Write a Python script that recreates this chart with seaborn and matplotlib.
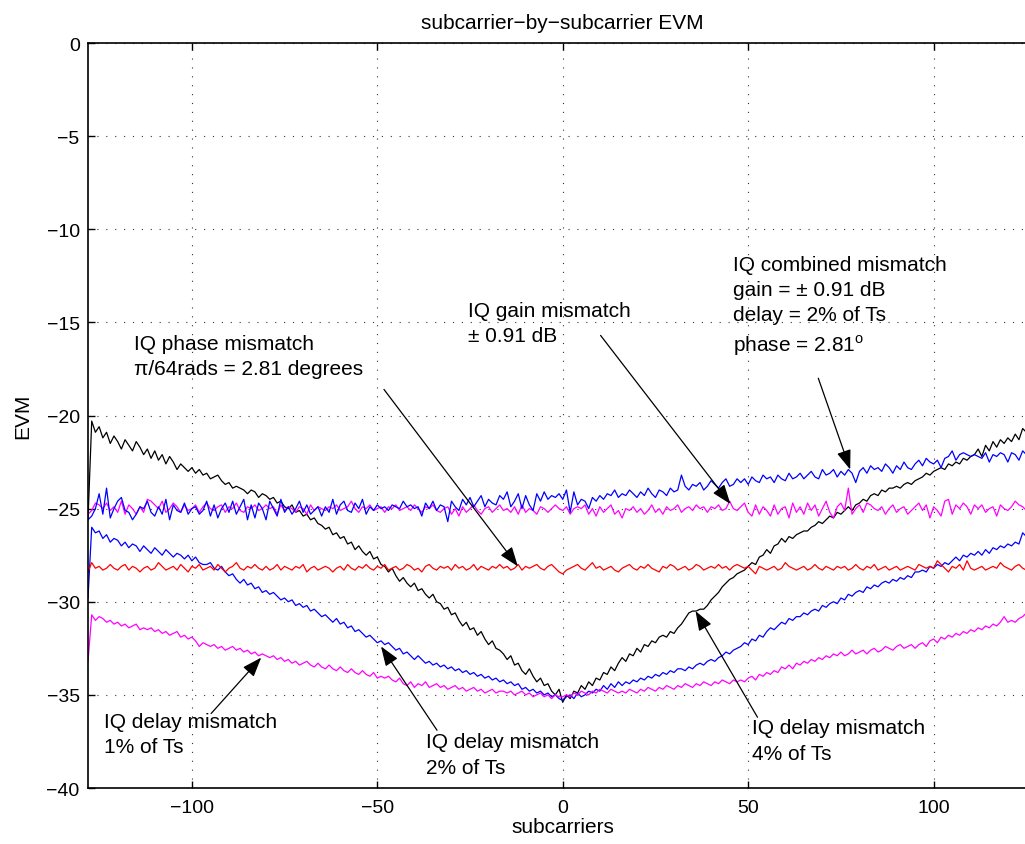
import matplotlib
matplotlib.use("Agg")
import matplotlib.pyplot as plt
import numpy as np
import pandas as pd
import seaborn as sns

# ---------------- data ----------------
subcarriers = list(range(-128, 128))

# IQ delay mismatch 4% of Ts (black)
delay_4pct = [
    -25.6, -20.3, -20.9, -20.6, -21.2, -20.9, -21.5, -21.1, -21.4, -21.8, -21.3, -21.6, -21.9, -21.4, -21.7, -22.1,
    -21.8, -22.3, -21.9, -22.4, -22.1, -22.6, -22.2, -22.5, -22.9, -22.6, -22.8, -23.0, -22.8, -23.1, -22.9, -23.2,
    -23.1, -23.4, -23.3, -23.2, -23.5, -23.7, -23.6, -23.9, -23.8, -23.9, -24.0, -24.2, -24.0, -24.1, -24.4, -24.2,
    -24.3, -24.5, -24.4, -24.7, -24.6, -24.9, -25.0, -24.8, -25.2, -25.1, -25.4, -25.3, -25.6, -25.5, -25.8, -25.9,
    -26.1, -26.0, -26.4, -26.3, -26.6, -26.5, -26.9, -26.8, -27.2, -27.0, -27.3, -27.5, -27.3, -27.7, -27.6, -28.0,
    -28.1, -28.4, -28.2, -28.6, -28.9, -28.7, -29.0, -29.2, -29.0, -29.4, -29.3, -29.6, -29.8, -29.6, -30.0, -30.1,
    -30.4, -30.3, -30.7, -30.6, -31.0, -31.3, -31.1, -31.5, -31.4, -31.8, -31.6, -32.0, -32.3, -32.1, -32.5, -32.6,
    -32.8, -33.1, -32.9, -33.4, -33.3, -33.7, -33.9, -33.6, -34.0, -34.3, -34.1, -34.5, -34.4, -34.8, -35.0, -34.7,
    -35.4, -35.0, -35.2, -34.8, -34.9, -34.5, -34.7, -34.3, -34.5, -34.1, -34.2, -33.8, -33.9, -33.5, -33.7, -33.3,
    -33.0, -33.2, -32.8, -32.9, -32.5, -32.7, -32.3, -32.4, -32.1, -32.2, -31.9, -31.8, -31.9, -31.6, -31.7, -31.4,
    -31.2, -30.9, -30.6, -30.5, -30.5, -30.4, -30.4, -30.2, -29.9, -29.7, -29.5, -29.2, -29.0, -28.8, -28.7, -28.5,
    -28.4, -28.3, -28.1, -27.9, -28.0, -27.6, -27.5, -27.2, -27.4, -27.0, -26.9, -26.6, -26.8, -26.5, -26.6, -26.4,
    -26.3, -26.2, -26.2, -26.0, -25.9, -25.7, -25.8, -25.6, -25.4, -25.5, -25.2, -25.3, -25.1, -24.9, -25.1, -24.8,
    -24.7, -24.5, -24.6, -24.3, -24.2, -24.3, -24.0, -24.1, -23.9, -23.9, -23.8, -23.9, -23.7, -23.6, -23.7, -23.5,
    -23.4, -23.3, -23.1, -23.2, -23.0, -22.9, -22.8, -22.9, -22.6, -22.7, -22.5, -22.6, -22.3, -22.4, -22.2, -22.1,
    -21.8, -22.2, -21.6, -21.9, -21.4, -21.7, -21.3, -21.5, -21.2, -21.4, -21.0, -21.3, -20.7, -20.9, -20.6, -20.5,
]

# IQ combined mismatch (upper blue)
combined = [
    -25.6, -25.4, -25.0, -24.2, -25.3, -23.9, -25.5, -25.0, -24.6, -24.4, -25.1, -25.2, -25.6, -25.3, -24.9, -25.0,
    -24.6, -25.2, -25.4, -24.9, -25.3, -24.5, -25.6, -24.8, -25.1, -25.2, -24.7, -25.3, -25.0, -24.9, -25.3, -25.1,
    -24.6, -25.4, -24.8, -25.5, -25.0, -24.7, -25.2, -24.6, -25.3, -24.9, -24.5, -25.6, -24.8, -25.5, -24.7, -25.0,
    -25.6, -24.6, -25.0, -25.4, -24.5, -25.2, -24.9, -25.3, -25.0, -24.6, -25.2, -24.8, -25.3, -25.1, -24.9, -25.4,
    -24.9, -25.2, -24.5, -25.3, -24.8, -24.6, -25.1, -25.2, -24.7, -25.0, -24.5, -25.3, -24.9, -25.1, -24.8, -25.0,
    -24.9, -25.1, -24.8, -24.9, -25.0, -24.6, -24.9, -24.8, -25.0, -24.9, -25.4, -24.7, -25.0, -24.6, -25.1, -24.8,
    -24.9, -25.7, -24.6, -24.9, -25.1, -24.5, -24.8, -24.4, -24.9, -24.6, -24.3, -24.9, -24.5, -24.7, -24.8, -24.3,
    -24.5, -24.1, -24.9, -24.6, -24.2, -25.0, -24.3, -24.8, -25.1, -24.2, -24.6, -24.1, -24.5, -24.3, -24.4, -24.2,
    -24.5, -24.0, -25.2, -24.1, -24.8, -24.5, -24.6, -25.0, -24.4, -24.6, -24.3, -24.5, -24.2, -24.3, -24.0, -24.4,
    -24.2, -24.3, -24.0, -24.2, -24.4, -24.1, -24.3, -23.9, -24.2, -24.4, -24.0, -24.1, -24.3, -23.9, -24.1, -24.0,
    -23.2, -23.8, -24.0, -23.7, -23.8, -23.6, -24.0, -23.8, -23.5, -23.7, -23.9, -23.6, -23.4, -23.8, -23.7, -23.4,
    -23.6, -23.4, -23.7, -23.3, -23.5, -23.6, -23.2, -23.4, -23.3, -23.6, -23.2, -23.4, -23.5, -23.1, -23.4, -23.3,
    -23.1, -23.4, -23.2, -23.0, -23.3, -23.4, -22.9, -23.2, -23.1, -22.9, -23.3, -23.0, -23.2, -22.9, -23.1, -23.6,
    -23.0, -22.8, -23.1, -22.7, -22.9, -22.8, -23.0, -22.6, -22.8, -23.1, -22.7, -22.9, -22.5, -22.8, -22.9, -22.6,
    -22.4, -22.7, -22.3, -22.5, -22.6, -22.4, -22.8, -22.3, -22.2, -21.9, -22.4, -22.1, -22.0, -22.1, -22.2, -22.1,
    -22.2, -22.3, -22.0, -22.5, -22.1, -22.2, -22.0, -22.1, -22.5, -22.0, -22.1, -22.4, -21.9, -22.1, -22.0, -22.2,
]

# IQ gain mismatch +-0.91 dB (upper magenta)
gain = [
    -25.3, -25.1, -24.7, -24.8, -25.0, -24.7, -25.1, -24.9, -25.2, -24.6, -25.3, -24.8, -25.0, -25.3, -24.9, -25.2,
    -24.5, -24.6, -24.8, -25.0, -24.6, -25.2, -25.0, -24.7, -24.9, -25.2, -24.8, -25.1, -25.0, -24.8, -25.2, -24.9,
    -24.7, -25.0, -25.1, -24.9, -24.8, -25.2, -24.9, -25.0, -24.7, -25.1, -25.2, -24.9, -25.0, -24.8, -25.1, -25.0,
    -24.8, -25.0, -24.9, -25.3, -24.8, -25.1, -24.9, -25.0, -25.2, -24.9, -25.0, -25.3, -24.8, -25.1, -24.9, -25.0,
    -25.1, -24.9, -25.0, -24.8, -25.1, -25.0, -24.9, -24.6, -25.0, -25.2, -24.9, -25.0, -24.8, -25.1, -25.0, -24.9,
    -25.2, -24.9, -25.0, -24.8, -25.1, -25.0, -24.9, -25.1, -24.8, -25.0, -25.2, -24.9, -25.0, -24.8, -25.1, -25.2,
    -25.0, -24.9, -25.3, -25.0, -25.4, -24.9, -25.2, -25.0, -24.8, -25.1, -25.3, -25.0, -24.9, -25.2, -25.0, -24.8,
    -25.1, -25.0, -25.2, -24.9, -25.3, -24.8, -25.2, -25.0, -25.1, -25.3, -24.9, -25.0, -25.2, -25.0, -24.8, -25.0,
    -25.1, -24.9, -25.3, -25.0, -24.9, -25.0, -24.8, -25.3, -25.0, -25.4, -24.9, -25.2, -25.0, -24.8, -25.3, -25.1,
    -25.5, -25.0, -25.1, -24.9, -25.2, -25.0, -25.3, -25.1, -24.8, -25.2, -25.0, -25.3, -24.9, -25.1, -25.0, -24.8,
    -25.2, -25.0, -24.9, -25.1, -24.8, -25.0, -24.9, -25.2, -24.9, -25.0, -24.8, -25.1, -25.0, -24.6, -25.0, -25.1,
    -24.9, -24.7, -25.2, -25.4, -24.8, -25.3, -24.9, -25.1, -25.4, -24.8, -25.3, -25.0, -24.9, -25.5, -24.7, -25.2,
    -24.9, -25.3, -24.7, -25.1, -24.8, -25.4, -25.0, -24.6, -25.2, -25.5, -24.9, -24.7, -25.1, -23.9, -25.3, -25.0,
    -24.8, -25.2, -24.7, -24.8, -25.0, -25.1, -24.9, -25.3, -25.0, -24.8, -25.2, -25.0, -24.9, -25.3, -25.1, -24.9,
    -24.7, -25.1, -24.8, -25.5, -24.9, -25.1, -25.4, -24.6, -24.5, -25.3, -24.8, -25.0, -24.7, -24.9, -25.3, -24.8,
    -25.0, -24.8, -25.2, -25.0, -24.9, -25.4, -24.8, -25.0, -25.1, -24.9, -24.6, -24.8, -24.9, -25.1, -25.0, -24.9,
]

# IQ phase mismatch pi/64 rad (red)
phase = [
    -28.4, -27.9, -28.2, -28.1, -28.3, -28.2, -28.0, -28.2, -28.3, -28.1, -28.0, -28.3, -28.1, -28.2, -28.4, -28.2,
    -28.1, -28.3, -28.2, -27.9, -28.1, -28.3, -28.2, -28.1, -28.3, -28.0, -28.2, -28.4, -28.1, -28.2, -28.0, -28.3,
    -28.2, -28.1, -28.3, -28.0, -28.2, -28.4, -28.2, -28.1, -27.9, -28.2, -28.3, -28.1, -28.2, -28.0, -28.2, -28.3,
    -28.1, -28.3, -28.2, -28.0, -28.3, -28.1, -28.2, -28.3, -28.1, -28.2, -28.0, -28.4, -28.2, -28.1, -28.3, -28.2,
    -28.1, -28.2, -28.4, -28.2, -28.1, -28.3, -28.0, -28.2, -28.3, -28.1, -28.2, -28.0, -28.2, -28.3, -28.1, -28.2,
    -28.0, -28.3, -28.2, -28.1, -28.3, -28.2, -28.0, -28.1, -28.3, -28.2, -28.4, -28.1, -28.0, -28.2, -28.3, -28.1,
    -28.2, -28.1, -28.3, -28.0, -28.2, -28.1, -28.3, -28.2, -28.0, -28.3, -28.1, -28.2, -28.3, -28.1, -28.2, -28.0,
    -28.2, -28.1, -28.3, -28.2, -28.0, -28.3, -28.1, -28.2, -28.1, -28.0, -28.2, -28.3, -28.1, -28.0, -28.2, -28.4,
    -28.5, -28.3, -28.2, -28.1, -28.0, -28.2, -28.3, -28.1, -27.9, -28.2, -28.1, -28.3, -28.2, -28.1, -28.3, -28.4,
    -28.2, -28.1, -28.0, -28.2, -28.3, -28.1, -28.2, -28.0, -28.2, -28.3, -28.4, -28.1, -28.2, -28.0, -28.1, -28.3,
    -28.2, -28.1, -28.3, -28.2, -28.0, -28.1, -28.3, -28.2, -28.1, -28.2, -28.0, -28.2, -28.1, -28.3, -28.1, -28.0,
    -28.1, -28.2, -28.1, -28.3, -28.5, -28.1, -28.2, -28.3, -28.2, -28.1, -28.3, -28.2, -27.9, -28.1, -28.2, -28.3,
    -28.2, -28.1, -28.3, -28.2, -28.0, -28.2, -28.3, -28.1, -28.2, -28.3, -28.1, -28.2, -28.1, -28.3, -28.2, -28.0,
    -28.2, -28.3, -28.1, -28.2, -28.0, -28.3, -28.2, -28.1, -28.3, -28.2, -28.1, -28.3, -28.2, -28.1, -28.2, -28.3,
    -28.0, -28.1, -28.2, -28.1, -28.2, -27.8, -28.0, -28.2, -28.4, -28.1, -28.2, -28.0, -28.3, -27.8, -28.2, -28.3,
    -28.2, -28.1, -28.3, -28.2, -28.1, -28.2, -27.9, -28.1, -28.2, -28.3, -28.1, -28.0, -28.2, -28.3, -28.1, -27.9,
]

# IQ delay mismatch 2% of Ts (lower blue)
delay_2pct = [
    -29.8, -26.0, -26.3, -26.2, -26.6, -26.4, -26.8, -26.6, -26.7, -27.0, -26.8, -27.1, -26.9, -27.0, -27.3, -27.0,
    -27.2, -27.4, -27.1, -27.3, -27.5, -27.2, -27.4, -27.6, -27.4, -27.5, -27.7, -27.5, -27.8, -27.6, -27.9, -28.0,
    -28.0, -27.9, -28.2, -28.3, -28.1, -28.4, -28.6, -28.5, -28.8, -29.0, -28.8, -29.1, -29.0, -29.3, -29.2, -29.5,
    -29.4, -29.6, -29.5, -29.7, -29.9, -29.8, -30.0, -29.9, -30.2, -30.1, -30.3, -30.2, -30.5, -30.4, -30.6, -30.8,
    -30.7, -30.9, -31.1, -30.9, -31.2, -31.1, -31.4, -31.3, -31.6, -31.5, -31.7, -31.9, -31.8, -32.0, -32.2, -32.1,
    -32.3, -32.2, -32.4, -32.6, -32.5, -32.8, -32.7, -32.9, -33.1, -32.9, -33.1, -33.3, -33.2, -33.4, -33.3, -33.5,
    -33.4, -33.6, -33.5, -33.7, -33.6, -33.8, -33.7, -33.9, -33.8, -34.0, -33.9, -34.1, -34.0, -34.2, -34.1, -34.3,
    -34.2, -34.4, -34.3, -34.5, -34.4, -34.7, -34.6, -34.8, -34.7, -34.9, -34.8, -35.0, -34.9, -35.1, -35.0, -35.2,
    -35.3, -35.1, -35.0, -35.2, -34.9, -35.1, -35.0, -34.8, -34.9, -34.7, -34.8, -34.5, -34.7, -34.4, -34.6, -34.3,
    -34.5, -34.3, -34.4, -34.2, -34.3, -34.1, -34.2, -34.0, -34.1, -33.9, -34.0, -33.8, -33.9, -33.7, -33.8, -33.6,
    -33.6, -33.7, -33.5, -33.6, -33.4, -33.3, -33.4, -33.2, -33.1, -33.2, -33.0, -32.9, -32.7, -32.8, -32.6, -32.5,
    -32.4, -32.2, -32.3, -32.0, -32.1, -31.8, -31.9, -31.6, -31.4, -31.5, -31.3, -31.1, -31.2, -30.9, -31.0, -30.8,
    -30.8, -30.6, -30.7, -30.5, -30.4, -30.5, -30.2, -30.3, -30.1, -30.0, -30.1, -29.8, -29.9, -29.6, -29.7, -29.5,
    -29.4, -29.5, -29.2, -29.3, -29.1, -29.2, -29.0, -28.9, -29.0, -28.8, -28.9, -28.7, -28.8, -28.6, -28.7, -28.4,
    -28.4, -28.3, -28.4, -28.1, -28.2, -28.0, -28.1, -27.9, -28.0, -27.8, -27.6, -27.8, -27.5, -27.6, -27.4, -27.5,
    -27.3, -27.5, -27.2, -27.4, -27.1, -27.2, -27.0, -27.1, -26.9, -27.0, -26.8, -26.9, -26.3, -26.5, -26.2, -26.0,
]

# IQ delay mismatch 1% of Ts (lower magenta)
delay_1pct = [
    -33.2, -30.7, -31.0, -30.8, -30.9, -31.1, -31.0, -31.2, -31.1, -31.3, -31.2, -31.4, -31.3, -31.2, -31.5, -31.4,
    -31.5, -31.4, -31.6, -31.5, -31.7, -31.6, -31.8, -31.7, -31.6, -31.9, -31.8, -32.0, -31.9, -32.1, -32.4, -32.2,
    -32.3, -32.4, -32.3, -32.5, -32.4, -32.6, -32.5, -32.4, -32.6, -32.5, -32.7, -32.6, -32.8, -32.7, -32.9, -32.8,
    -32.9, -33.0, -32.9, -33.1, -33.0, -33.2, -33.1, -33.3, -33.2, -33.4, -33.3, -33.2, -33.4, -33.5, -33.3, -33.5,
    -33.6, -33.4, -33.6, -33.7, -33.5, -33.7, -33.8, -33.6, -33.8, -33.9, -33.7, -33.9, -34.0, -33.8, -34.1, -34.0,
    -34.1, -34.0, -34.2, -34.3, -34.1, -34.4, -34.5, -34.3, -34.6, -34.4, -34.5, -34.3, -34.6, -34.5, -34.4, -34.6,
    -34.5, -34.7, -34.6, -34.5, -34.7, -34.6, -34.8, -34.7, -34.6, -34.8, -34.7, -34.9, -34.8, -34.7, -34.9, -34.8,
    -34.8, -34.9, -34.8, -35.0, -34.9, -34.8, -35.0, -34.9, -35.1, -35.0, -34.9, -35.1, -35.0, -35.2, -35.0, -35.1,
    -35.1, -35.0, -35.1, -34.9, -35.0, -34.8, -34.9, -35.0, -34.8, -34.9, -34.7, -34.8, -34.9, -34.7, -34.8, -34.9,
    -34.8, -34.9, -34.7, -34.8, -34.9, -34.7, -34.8, -34.6, -34.7, -34.8, -34.6, -34.7, -34.5, -34.6, -34.7, -34.5,
    -34.6, -34.4, -34.5, -34.6, -34.4, -34.5, -34.3, -34.4, -34.5, -34.3, -34.4, -34.2, -34.3, -34.4, -34.2, -34.3,
    -34.2, -34.3, -34.1, -34.0, -34.2, -33.9, -34.0, -33.8, -33.9, -33.7, -33.8, -33.5, -33.6, -33.4, -33.6, -33.3,
    -33.4, -33.2, -33.3, -33.1, -33.2, -33.0, -33.1, -32.9, -33.0, -32.8, -32.9, -32.7, -32.9, -32.8, -32.6, -32.8,
    -32.7, -32.6, -32.8, -32.6, -32.5, -32.7, -32.6, -32.4, -32.5, -32.6, -32.4, -32.3, -32.5, -32.4, -32.3, -32.5,
    -32.3, -32.2, -32.4, -32.1, -32.0, -32.2, -31.9, -32.0, -31.8, -31.9, -31.7, -31.8, -31.6, -31.7, -31.5, -31.6,
    -31.4, -31.5, -31.3, -31.4, -31.2, -31.3, -31.1, -30.8, -31.1, -31.0, -31.1, -30.9, -30.8, -30.6, -30.5, -30.4,
]

series_order = ["delay4", "delay2", "delay1", "phase", "gain", "combined"]
series_colors = {"delay4": "#000000", "delay2": "#0000ff", "delay1": "#ff00ff",
                 "phase": "#ff0000", "gain": "#ff00ff", "combined": "#0000ff"}

x_ticks = [-100, -50, 0, 50, 100]
y_ticks = [0, -5, -10, -15, -20, -25, -30, -35, -40]

title_text = "subcarrier\u2212by\u2212subcarrier EVM"
x_label = "subcarriers"
y_label = "EVM"

annotations = [
    # text, text anchor (x, y), arrow tail, arrow head
    ("IQ phase mismatch\n\u03c0/64rads = 2.81 degrees", (-115.5, -16.8), (-48.2, -18.6), (-12.1, -28.1)),
    ("IQ gain mismatch\n\u00b1 0.91 dB", (-25.6, -15.05), (10.2, -15.7), (45.2, -24.75)),
    ("IQ combined mismatch\ngain = \u00b1 0.91 dB\ndelay = 2% of Ts\nphase = 2.81$^{\\mathrm{o}}$", (46.0, -14.1), (68.9, -18.0), (77.5, -22.9)),
    ("IQ delay mismatch\n1% of Ts", (-123.6, -37.1), (-94.8, -36.0), (-81.3, -33.0)),
    ("IQ delay mismatch\n2% of Ts", (-36.9, -38.2), (-33.9, -36.9), (-49.0, -32.4)),
    ("IQ delay mismatch\n4% of Ts", (51.1, -37.45), (52.5, -36.2), (35.8, -30.5)),
]

# ---------------- style ----------------
sns.set_theme(style="white")
plt.rcParams["font.family"] = ["Liberation Sans", "DejaVu Sans"]
plt.rcParams["mathtext.fontset"] = "custom"
plt.rcParams["mathtext.rm"] = "Liberation Sans"
plt.rcParams["axes.unicode_minus"] = True

FS = 14
FS_TEXT = 15

df = pd.DataFrame({
    "subcarrier": subcarriers,
    "delay4": delay_4pct,
    "combined": combined,
    "gain": gain,
    "phase": phase,
    "delay2": delay_2pct,
    "delay1": delay_1pct,
}).melt(id_vars="subcarrier", var_name="series", value_name="EVM")

fig = plt.figure(figsize=(10.25, 8.45), dpi=100)
W, H = 1025.0, 845.0
left_px, right_px, top_px, bottom_px = 88.0, 1037.5, 44.0, 789.0
ax = fig.add_axes([left_px / W, 1 - bottom_px / H, (right_px - left_px) / W, (bottom_px - top_px) / H])

sns.lineplot(data=df, x="subcarrier", y="EVM", hue="series", hue_order=series_order,
             palette=series_colors, estimator=None, linewidth=0.9, legend=False, ax=ax)

ax.set_xlim(-128, 128)
ax.set_ylim(-40, 0)
ax.set_xticks(x_ticks)
ax.set_yticks(y_ticks)
ax.set_xticklabels([str(t).replace("-", "\u2212") for t in x_ticks])
ax.set_yticklabels([str(t).replace("-", "\u2212") for t in y_ticks])

ax.grid(True, color="#333333", linestyle=(0, (1, 7)), linewidth=0.8)
for s in ax.spines.values():
    s.set_color("black")
    s.set_linewidth(1.2)
    s.set_visible(True)
ax.tick_params(direction="in", length=5, width=1.0, colors="black", labelsize=FS,
               top=True, right=True, bottom=True, left=True, pad=6)
ax.tick_params(axis="y", pad=6)
ax.tick_params(axis="x", pad=8)

ax.set_title(title_text, fontsize=FS_TEXT, pad=11, color="black")
ax.set_xlabel(x_label, fontsize=FS_TEXT, labelpad=1, color="black")
ax.set_ylabel(y_label, fontsize=FS_TEXT, labelpad=10, color="black")

for text, (tx, ty), tail, head in annotations:
    ax.text(tx, ty, text, fontsize=FS_TEXT, ha="left", va="center", linespacing=1.42, color="black")
    ax.annotate("", xy=head, xytext=tail,
                arrowprops=dict(arrowstyle="-|>,head_length=0.6,head_width=0.22",
                                mutation_scale=20, color="black", lw=0.9,
                                shrinkA=0, shrinkB=0))

fig.savefig("out.png", dpi=100)
